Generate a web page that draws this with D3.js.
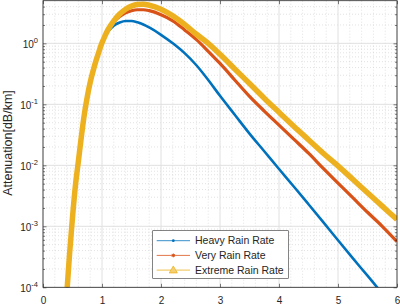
<!DOCTYPE html>
<html>
<head>
<meta charset="utf-8">
<script src="https://cdn.jsdelivr.net/npm/d3@7"></script>
<style>
  body { margin: 0; background: #fff; }
  text { font-family: "Liberation Sans", Arial, Helvetica, sans-serif; fill: #262626; }
</style>
</head>
<body>
<div id="chart"></div>
<script>
// x positions shared by the three curves
var xs = [0.40, 0.45, 0.50, 0.55, 0.60, 0.65, 0.70, 0.75, 0.80, 0.85, 0.90, 0.95, 1.00, 1.05,
          1.1, 1.2, 1.3, 1.4, 1.5, 1.6, 1.7, 1.8, 2.0, 2.2, 2.4, 2.6, 2.8, 3.0,
          3.25, 3.5, 3.75, 4.0, 4.25, 4.5, 4.75, 5.0, 5.25, 5.5, 5.75, 6.0];

// the rising part is the same for all three
var rise = [7.1e-5, 3.5e-4, 1.4e-3, 4.7e-3, 0.0117, 0.0295, 0.0676, 0.132, 0.229, 0.355, 0.525, 0.741, 1.02, 1.32];

var heavy = rise.concat([1.55, 1.95, 2.19, 2.32, 2.32, 2.21, 2.04, 1.82, 1.38, 1.0, 0.69, 0.437, 0.251, 0.138,
          0.0676, 0.0331, 0.017, 8.7e-3, 4.5e-3, 2.3e-3, 1.17e-3, 5.9e-4, 3.0e-4, 1.55e-4, 7.9e-5, 4.1e-5]);
var very = rise.concat([1.62, 2.24, 2.75, 3.16, 3.43, 3.55, 3.55, 3.43, 2.95, 2.34, 1.66, 1.15, 0.741, 0.468,
          0.251, 0.135, 0.0776, 0.0457, 0.0269, 0.0158, 8.9e-3, 5.1e-3, 2.95e-3, 1.7e-3, 1.0e-3, 5.6e-4]);
var extreme = rise.concat([1.66, 2.34, 3.02, 3.63, 4.07, 4.32, 4.37, 4.22, 3.63, 2.82, 2.04, 1.41, 1.0, 0.661,
          0.38, 0.219, 0.126, 0.0741, 0.0437, 0.0263, 0.0158, 9.8e-3, 5.9e-3, 3.55e-3, 2.14e-3, 1.29e-3]);

var seriesNames = ["Heavy Rain Rate", "Very Rain Rate", "Extreme Rain Rate"];
var seriesColors = ["#0072BD", "#D95319", "#EDB120"];
var seriesWidths = [2.6, 3.2, 5.5];
var seriesMarkers = ["dot", "star", "triangle"];

var xTicks = [0, 1, 2, 3, 4, 5, 6];
var yTicks = [1e-4, 1e-3, 1e-2, 1e-1, 1e0];
var yExponents = ["-4", "-3", "-2", "-1", "0"];
var yLabel = "Attenuation[dB/km]";

var width = 400, height = 306;
var plotLeft = 43, plotRight = 397, plotTop = 0.7, plotBottom = 287.3;

var svg = d3.select("#chart")
    .append("svg")
        .attr("width", width)
        .attr("height", height);

var x = d3.scaleLinear()
    .domain([0, 6])
    .range([plotLeft, plotRight]);

var y = d3.scaleLog()
    .domain([1e-4, 5])
    .range([plotBottom, plotTop]);

// minor values
var xMinor = [];
for (var i = 0; i <= 30; ++i) {
    if (i % 5 != 0) xMinor.push(i * 0.2);
}
var yMinor = [];
for (var e = -4; e <= 0; ++e) {
    for (var k = 2; k <= 9; ++k) {
        var v = k * Math.pow(10, e);
        if (v < 5) yMinor.push(v);
    }
}

// grid
var grid = svg.append("g");
grid.selectAll(".xminor").data(xMinor).enter()
    .append("line")
    .attr("x1", function(d){ return x(d); })
    .attr("x2", function(d){ return x(d); })
    .attr("y1", plotTop).attr("y2", plotBottom)
    .attr("stroke", "#cfcfcf").attr("stroke-width", 0.6)
    .attr("stroke-dasharray", "1,2");
grid.selectAll(".yminor").data(yMinor).enter()
    .append("line")
    .attr("x1", plotLeft).attr("x2", plotRight)
    .attr("y1", function(d){ return y(d); })
    .attr("y2", function(d){ return y(d); })
    .attr("stroke", "#cfcfcf").attr("stroke-width", 0.6)
    .attr("stroke-dasharray", "1,2");
grid.selectAll(".xmajor").data(xTicks).enter()
    .append("line")
    .attr("x1", function(d){ return x(d); })
    .attr("x2", function(d){ return x(d); })
    .attr("y1", plotTop).attr("y2", plotBottom)
    .attr("stroke", "#e0e0e0").attr("stroke-width", 1);
grid.selectAll(".ymajor").data(yTicks).enter()
    .append("line")
    .attr("x1", plotLeft).attr("x2", plotRight)
    .attr("y1", function(d){ return y(d); })
    .attr("y2", function(d){ return y(d); })
    .attr("stroke", "#e0e0e0").attr("stroke-width", 1);

// curves
svg.append("clipPath").attr("id", "clip")
    .append("rect")
    .attr("x", plotLeft).attr("y", plotTop)
    .attr("width", plotRight - plotLeft).attr("height", plotBottom - plotTop);

var line = d3.line()
    .x(function(d, i){ return x(xs[i]); })
    .y(function(d){ return y(d); })
    .curve(d3.curveMonotoneX);

var curves = svg.append("g").attr("clip-path", "url(#clip)");
[heavy, very, extreme].forEach(function(s, i){
    curves.append("path")
        .datum(s)
        .attr("d", line)
        .attr("fill", "none")
        .attr("stroke", seriesColors[i])
        .attr("stroke-width", seriesWidths[i])
        .attr("stroke-linejoin", "round");
});

// axes (ticks inward)
var axisColor = "#262626";

svg.append("g")
    .attr("transform", "translate(0," + plotBottom + ")")
    .call(d3.axisBottom(x).tickValues(xTicks).tickSize(-3.5).tickPadding(10).tickFormat(d3.format("d")));
svg.append("g")
    .attr("transform", "translate(0," + plotTop + ")")
    .call(d3.axisTop(x).tickValues(xTicks).tickSize(-3.5).tickFormat(""));

var yAxis = svg.append("g")
    .attr("transform", "translate(" + plotLeft + ",0)")
    .call(d3.axisLeft(y).tickValues(yTicks).tickSize(-3.5).tickPadding(5).tickFormat(""));
svg.append("g")
    .attr("transform", "translate(" + plotLeft + ",0)")
    .call(d3.axisLeft(y).tickValues(yMinor).tickSize(-2).tickFormat(""));
svg.append("g")
    .attr("transform", "translate(" + plotRight + ",0)")
    .call(d3.axisRight(y).tickValues(yTicks).tickSize(-3.5).tickFormat(""));
svg.append("g")
    .attr("transform", "translate(" + plotRight + ",0)")
    .call(d3.axisRight(y).tickValues(yMinor).tickSize(-2).tickFormat(""));

svg.selectAll(".domain").remove();
svg.selectAll(".tick line").attr("stroke", axisColor).attr("stroke-width", 0.6);
svg.selectAll(".tick text").attr("fill", axisColor).attr("font-size", "10px")
    .attr("font-family", "'Liberation Sans', Arial, Helvetica, sans-serif");

// 10^n labels
yAxis.selectAll(".tick text").each(function(d, i){
    var t = d3.select(this);
    t.text("").attr("dy", "0.42em");
    t.append("tspan").text("10");
    t.append("tspan").text(yExponents[i])
        .attr("font-size", "7.5px")
        .attr("dy", "-4.6");
});

// box
svg.append("rect")
    .attr("x", plotLeft).attr("y", plotTop)
    .attr("width", plotRight - plotLeft).attr("height", plotBottom - plotTop)
    .attr("fill", "none")
    .attr("stroke", axisColor)
    .attr("stroke-width", 0.8);

svg.append("text")
    .attr("transform", "translate(12.3,143) rotate(-90)")
    .attr("text-anchor", "middle")
    .attr("font-size", "12.5px")
    .text(yLabel);

// legend
var legend = svg.append("g").attr("transform", "translate(152.7,230.7)");
legend.append("rect")
    .attr("width", 135.6).attr("height", 47.6)
    .attr("fill", "#fff")
    .attr("stroke", "#333")
    .attr("stroke-width", 0.6);

var rows = legend.selectAll(".row")
    .data(seriesNames)
    .enter()
    .append("g")
    .attr("transform", function(d, i){ return "translate(0," + (10 + i * 14.7) + ")"; });

rows.append("line")
    .attr("x1", 4).attr("x2", 37.3)
    .attr("stroke", function(d, i){ return seriesColors[i]; })
    .attr("stroke-width", 0.8);

rows.each(function(d, i){
    var g = d3.select(this);
    var cx = 20.6;
    if (seriesMarkers[i] == "dot") {
        g.append("circle").attr("cx", cx).attr("r", 1.4).attr("fill", seriesColors[i]);
    } else if (seriesMarkers[i] == "star") {
        g.append("path")
            .attr("d", d3.symbol().type(d3.symbolAsterisk).size(10)())
            .attr("transform", "translate(" + cx + ",0)")
            .attr("stroke", seriesColors[i]).attr("stroke-width", 1).attr("fill", "none");
        g.append("circle").attr("cx", cx).attr("r", 1.2).attr("fill", seriesColors[i]);
    } else {
        g.append("path")
            .attr("d", d3.symbol().type(d3.symbolTriangle).size(28)())
            .attr("transform", "translate(" + cx + ",0.5)")
            .attr("fill", "#f3cf74")
            .attr("stroke", seriesColors[i]).attr("stroke-width", 0.8);
    }
});

rows.append("text")
    .attr("x", 42.3)
    .attr("dy", "0.36em")
    .attr("font-size", "10.5px")
    .text(function(d){ return d; });
</script>
</body>
</html>
